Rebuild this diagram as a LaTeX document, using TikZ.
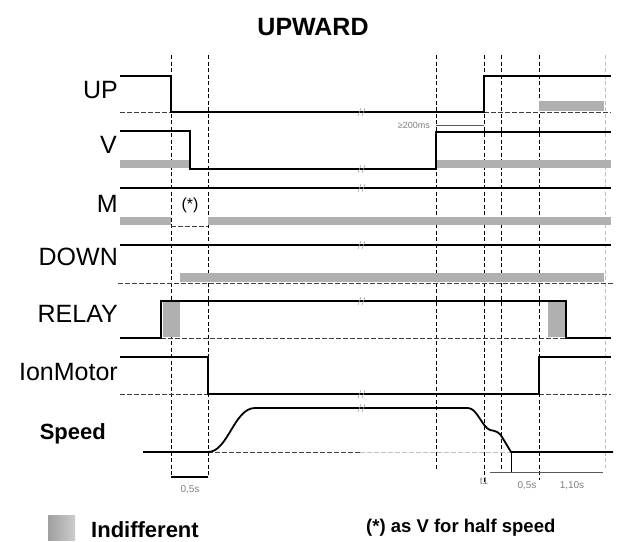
\documentclass[tikz,border=0pt]{standalone}
\usepackage{fontspec}
\setmainfont{Liberation Sans}
\begin{document}
\begin{tikzpicture}[x=1pt,y=-1pt,
    sig/.style={line width=1.8pt},
    lowlvl/.style={dash pattern=on 5pt off 2pt, line width=0.9pt, black!75},
    guide/.style={dash pattern=on 4pt off 2.5pt, line width=0.8pt},
    indiff/.style={fill=gray!62},
    lbl/.style={anchor=base east, inner sep=0pt, font=\fontsize{25}{25}\selectfont},
    small/.style={inner sep=0pt, text=gray, font=\fontsize{9}{9}\selectfont}]
  \useasboundingbox (0,0) rectangle (617,541);

  \node[inner sep=0pt, anchor=base, font=\bfseries\fontsize{25}{25}\selectfont] (title) at (313,35) {UPWARD};

  % Time marks
  \foreach \x/\yend in {171/477, 208/477, 436/470, 484/482, 501/470, 539/480}
    \draw[guide] (\x,55) -- (\x,\yend);
  \draw[guide, gray!50] (605,55) -- (605,468);

  % Indifferent zones
  \fill[indiff] (539,101) rectangle (604,111);
  \fill[indiff] (120,160) rectangle (190,168);
  \fill[indiff] (436,160) rectangle (611,168);
  \fill[indiff] (120,217) rectangle (171,225);
  \fill[indiff] (208,217) rectangle (611,225);
  \fill[indiff] (180,273) rectangle (604,282);
  \fill[indiff] (163,302) rectangle (180,337);
  \fill[indiff] (548,302) rectangle (566,337);

  % Low levels
  \draw[lowlvl] (120,112) -- (171,112) (484,112) -- (611,112);
  \draw[lowlvl] (171,226) -- (208,226);
  \draw[lowlvl] (118,283) -- (613,283);
  \draw[lowlvl] (161,338) -- (566,338);
  \draw[lowlvl] (120,394) -- (208,394) (539,394) -- (611,394);
  \draw[lowlvl] (208,452) -- (360,452);
  \draw[lowlvl, gray!50] (360,452) -- (511,452);

  % Signals
  \node[lbl] (up) at (118,98) {UP};
  \draw[sig] (120,76) -- (171,76) -- (171,112) -- (484,112) -- (484,76) -- (611,76);
  \node[lbl] (v) at (117,153) {V};
  \draw[sig] (120,131) -- (190,131) -- (190,169) -- (436,169) -- (436,132) -- (611,132);
  \node[lbl] (m) at (118,212) {M};
  \draw[sig] (120,188) -- (611,188);
  \node[inner sep=0pt, font=\fontsize{16}{16}\selectfont] (half) at (190,205) {(*)};
  \node[lbl] (down) at (118,265) {DOWN};
  \draw[sig] (120,245) -- (611,245);
  \node[lbl] (relay) at (118,322) {RELAY};
  \draw[sig] (120,338) -- (161,338) -- (161,301) -- (566,301) -- (566,338) -- (611,338);
  \node[lbl] (ionmotor) at (118,380) {IonMotor};
  \draw[sig] (120,357) -- (208,357) -- (208,394) -- (539,394) -- (539,357) -- (611,357);
  \node[lbl, font=\bfseries\fontsize{22}{22}\selectfont] (speed) at (106,439) {Speed};
  \draw[sig] (143,452) -- (208,452) .. controls (228,452) and (234,408) .. (255,408)
    -- (468,408) .. controls (477,408) and (482,427) .. (490,430)
    .. controls (496,431) and (499,432) .. (502,437) -- (511,452) -- (613,452);

  % Breaks
  \foreach \y in {112,169,188,245,301,394,408}
    \draw[gray!70, line width=0.6pt] (358,\y+4) -- (361,\y-4) (362,\y+4) -- (365,\y-4);

  % Durations
  \draw[gray!70!black, line width=0.9pt] (436,125) -- (484,125);
  \node[small, anchor=east] (gap) at (430,125) {≥200ms};
  \draw[line width=1.2pt] (171,477) -- (208,477);
  \node[small, font=\fontsize{10}{10}\selectfont] (start) at (190,490) {0,5s};
  \draw[line width=0.9pt] (511,452) -- (511,472);
  \draw[gray!70!black, line width=0.9pt] (490,472) -- (603,472);
  \node[small, font=\fontsize{10}{10}\selectfont] (tone) at (484,481) {t1};
  \node[small, font=\fontsize{10}{10}\selectfont] (stop) at (527,486) {0,5s};
  \node[small, font=\fontsize{10}{10}\selectfont] (total) at (572,486) {1,10s};

  % Legend
  \shade[left color=gray!75, right color=gray!40] (48,515) rectangle (75,540);
  \node[inner sep=0pt, anchor=base west, font=\bfseries\fontsize{22}{22}\selectfont] (key) at (91,537) {Indifferent};
  \node[inner sep=0pt, anchor=base west, font=\bfseries\fontsize{18.5}{18.5}\selectfont] (note) at (366,532) {(*) as V for half speed};
\end{tikzpicture}
\end{document}
